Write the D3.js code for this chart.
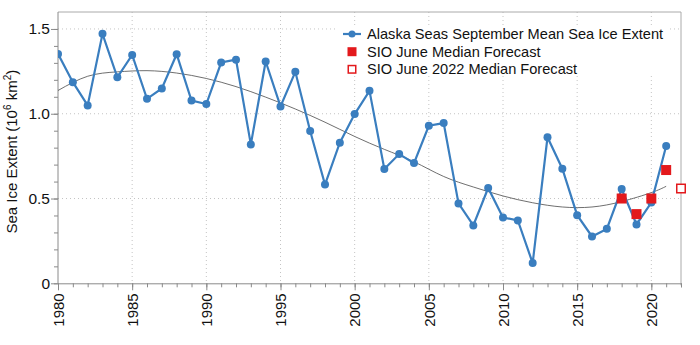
<!DOCTYPE html>
<html><head><meta charset="utf-8">
<script src="https://cdn.jsdelivr.net/npm/d3@7"></script>
<style>
html,body{margin:0;padding:0;background:#fff;}
text{font-family:"Liberation Sans",Arial,sans-serif;}
</style></head>
<body><svg id="c" width="700" height="345"></svg>
<script>
const years = d3.range(1980, 2022);
const extent = [1.353,1.186,1.049,1.471,1.215,1.347,1.088,1.149,1.351,1.078,
  1.057,1.302,1.319,0.819,1.308,1.043,1.247,0.898,0.582,0.829,
  0.998,1.135,0.674,0.762,0.709,0.929,0.945,0.471,0.341,0.562,
  0.388,0.371,0.119,0.861,0.676,0.402,0.276,0.321,0.556,0.347,
  0.476,0.810];
const forecastYears = [2018, 2019, 2020, 2021];
const forecastValues = [0.500, 0.408, 0.500, 0.668];
const forecast2022Year = [2022];
const forecast2022Value = [0.559];
const trendYears = [1980,1982,1984,1986,1988,1990,1992,1994,1996,1998,2000,2002,2004,2006,2008,2010,2012,2014,2016,2018,2020,2021];
const trendValues = [1.137,1.221,1.247,1.254,1.240,1.208,1.160,1.098,1.028,0.950,0.866,0.790,0.717,0.630,0.568,0.515,0.475,0.450,0.450,0.482,0.535,0.572];
const xTickLabels = [1980,1985,1990,1995,2000,2005,2010,2015,2020];
const yTickLabels = [0, 0.5, 1.0, 1.5];
const legendLabels = ["Alaska Seas September Mean Sea Ice Extent","SIO June Median Forecast","SIO June 2022 Median Forecast"];

const svg = d3.select("#c");
const L = 58, R = 681, T = 12, B = 283.3;
const x = d3.scaleLinear().domain([1980, 2022]).range([L, R]);
const y = d3.scaleLinear().domain([0, 1.6]).range([B, T]);
const blue = "#3a7ebf", red = "#e3191c", axisCol = "#8a8a8a";

// grid
const g = svg.append("g");
g.selectAll(".vg").data(xTickLabels.slice(1)).join("line")
  .attr("x1", d => x(d)).attr("x2", d => x(d)).attr("y1", T).attr("y2", B)
  .attr("stroke", "#c4c4c4").attr("stroke-dasharray", "1,3");
g.selectAll(".hg").data(yTickLabels.slice(1)).join("line")
  .attr("x1", L).attr("x2", R).attr("y1", d => y(d)).attr("y2", d => y(d))
  .attr("stroke", "#c4c4c4").attr("stroke-dasharray", "1,3");

// frame top/right
svg.append("line").attr("x1", L).attr("x2", R).attr("y1", T).attr("y2", T).attr("stroke", "#aaa");
svg.append("line").attr("x1", R).attr("x2", R).attr("y1", T).attr("y2", B+2).attr("stroke", "#aaa");

// x axis minor + major
const xMinor = svg.append("g").attr("transform", `translate(0,${B})`)
  .call(d3.axisBottom(x).tickValues(d3.range(1980, 2023)).tickSize(4).tickFormat(""));
xMinor.select(".domain").attr("stroke", axisCol);
xMinor.selectAll(".tick line").attr("stroke", axisCol);
const xMajor = svg.append("g").attr("transform", `translate(0,${B})`)
  .call(d3.axisBottom(x).tickValues(xTickLabels).tickSize(7).tickFormat(d3.format("d")));
xMajor.select(".domain").remove();
xMajor.selectAll(".tick line").attr("stroke", axisCol);
xMajor.selectAll(".tick text").attr("transform", "rotate(-90)")
  .attr("x", -10).attr("y", 0).attr("dy", "0.35em").attr("text-anchor", "end")
  .attr("font-size", 15).attr("fill", "#111");

// y axis
const yMinor = svg.append("g").attr("transform", `translate(${L},0)`)
  .call(d3.axisLeft(y).tickValues(d3.range(0, 16).map(d => d / 10)).tickSize(4).tickFormat(""));
yMinor.select(".domain").attr("stroke", axisCol).attr("d", `M0,${T}V${B}`);
yMinor.selectAll(".tick line").attr("stroke", axisCol);
const yMajor = svg.append("g").attr("transform", `translate(${L},0)`)
  .call(d3.axisLeft(y).tickValues(yTickLabels).tickSize(7).tickFormat(d => d === 0 ? "0" : d3.format(".1f")(d)));
yMajor.select(".domain").remove();
yMajor.selectAll(".tick line").attr("stroke", axisCol);
yMajor.selectAll(".tick text").attr("x", -8).attr("font-size", 15.5).attr("fill", "#111");

// y label
const yl = svg.append("text").attr("transform", `translate(17,${(T + B) / 2 + 4}) rotate(-90)`)
  .attr("text-anchor", "middle").attr("font-size", 15).attr("fill", "#111");
yl.append("tspan").text("Sea Ice Extent (10");
yl.append("tspan").attr("font-size", 10).attr("dy", -6).text("6");
yl.append("tspan").attr("dy", 6).text(" km");
yl.append("tspan").attr("font-size", 10).attr("dy", -6).text("2");
yl.append("tspan").attr("dy", 6).text(")");

// clip
svg.append("defs").append("clipPath").attr("id", "clip").append("rect")
  .attr("x", L).attr("y", T - 6).attr("width", R - L + 10).attr("height", B - T + 6);

// trend
svg.append("path").datum(trendYears.map((d, i) => [d, trendValues[i]]))
  .attr("d", d3.line().x(d => x(d[0])).y(d => y(d[1])).curve(d3.curveNatural))
  .attr("fill", "none").attr("stroke", "#4a4a4a").attr("stroke-width", 0.8);

// data line
const pts = years.map((d, i) => [d, extent[i]]);
const dg = svg.append("g").attr("clip-path", "url(#clip)");
dg.append("path").datum(pts)
  .attr("d", d3.line().x(d => x(d[0])).y(d => y(d[1])))
  .attr("fill", "none").attr("stroke", blue).attr("stroke-width", 2.2);
dg.selectAll("circle").data(pts).join("circle")
  .attr("cx", d => x(d[0])).attr("cy", d => y(d[1])).attr("r", 4).attr("fill", blue);

// forecasts
const s = 10;
svg.selectAll(".fc").data(forecastYears.map((d, i) => [d, forecastValues[i]])).join("rect")
  .attr("x", d => x(d[0]) - s / 2).attr("y", d => y(d[1]) - s / 2)
  .attr("width", s).attr("height", s).attr("fill", red);
svg.selectAll(".fc22").data(forecast2022Year.map((d, i) => [d, forecast2022Value[i]])).join("rect")
  .attr("x", d => x(d[0]) - s / 2 + 0.75).attr("y", d => y(d[1]) - s / 2 + 0.75)
  .attr("width", s - 1.5).attr("height", s - 1.5).attr("fill", "#fff")
  .attr("stroke", red).attr("stroke-width", 1.5);

// legend
const lg = svg.append("g");
const lx = 352, ly = [34, 51.7, 69.3];
lg.append("rect").attr("x", lx - 15).attr("y", ly[0] - 9).attr("width", 330).attr("height", 48).attr("fill", "#fff");
lg.append("line").attr("x1", lx - 9).attr("x2", lx + 9).attr("y1", ly[0]).attr("y2", ly[0]).attr("stroke", blue).attr("stroke-width", 2.2);
lg.append("circle").attr("cx", lx).attr("cy", ly[0]).attr("r", 3.5).attr("fill", blue);
lg.append("rect").attr("x", lx - 4.5).attr("y", ly[1] - 4.5).attr("width", 9).attr("height", 9).attr("fill", red);
lg.append("rect").attr("x", lx - 3.75).attr("y", ly[2] - 3.75).attr("width", 7.5).attr("height", 7.5).attr("fill", "#fff").attr("stroke", red).attr("stroke-width", 1.5);
lg.selectAll(".lt").data(legendLabels).join("text")
  .attr("x", 367).attr("y", (d, i) => ly[i]).attr("dy", "0.35em")
  .attr("font-size", 14.6).attr("fill", "#111").text(d => d);
</script></body></html>
